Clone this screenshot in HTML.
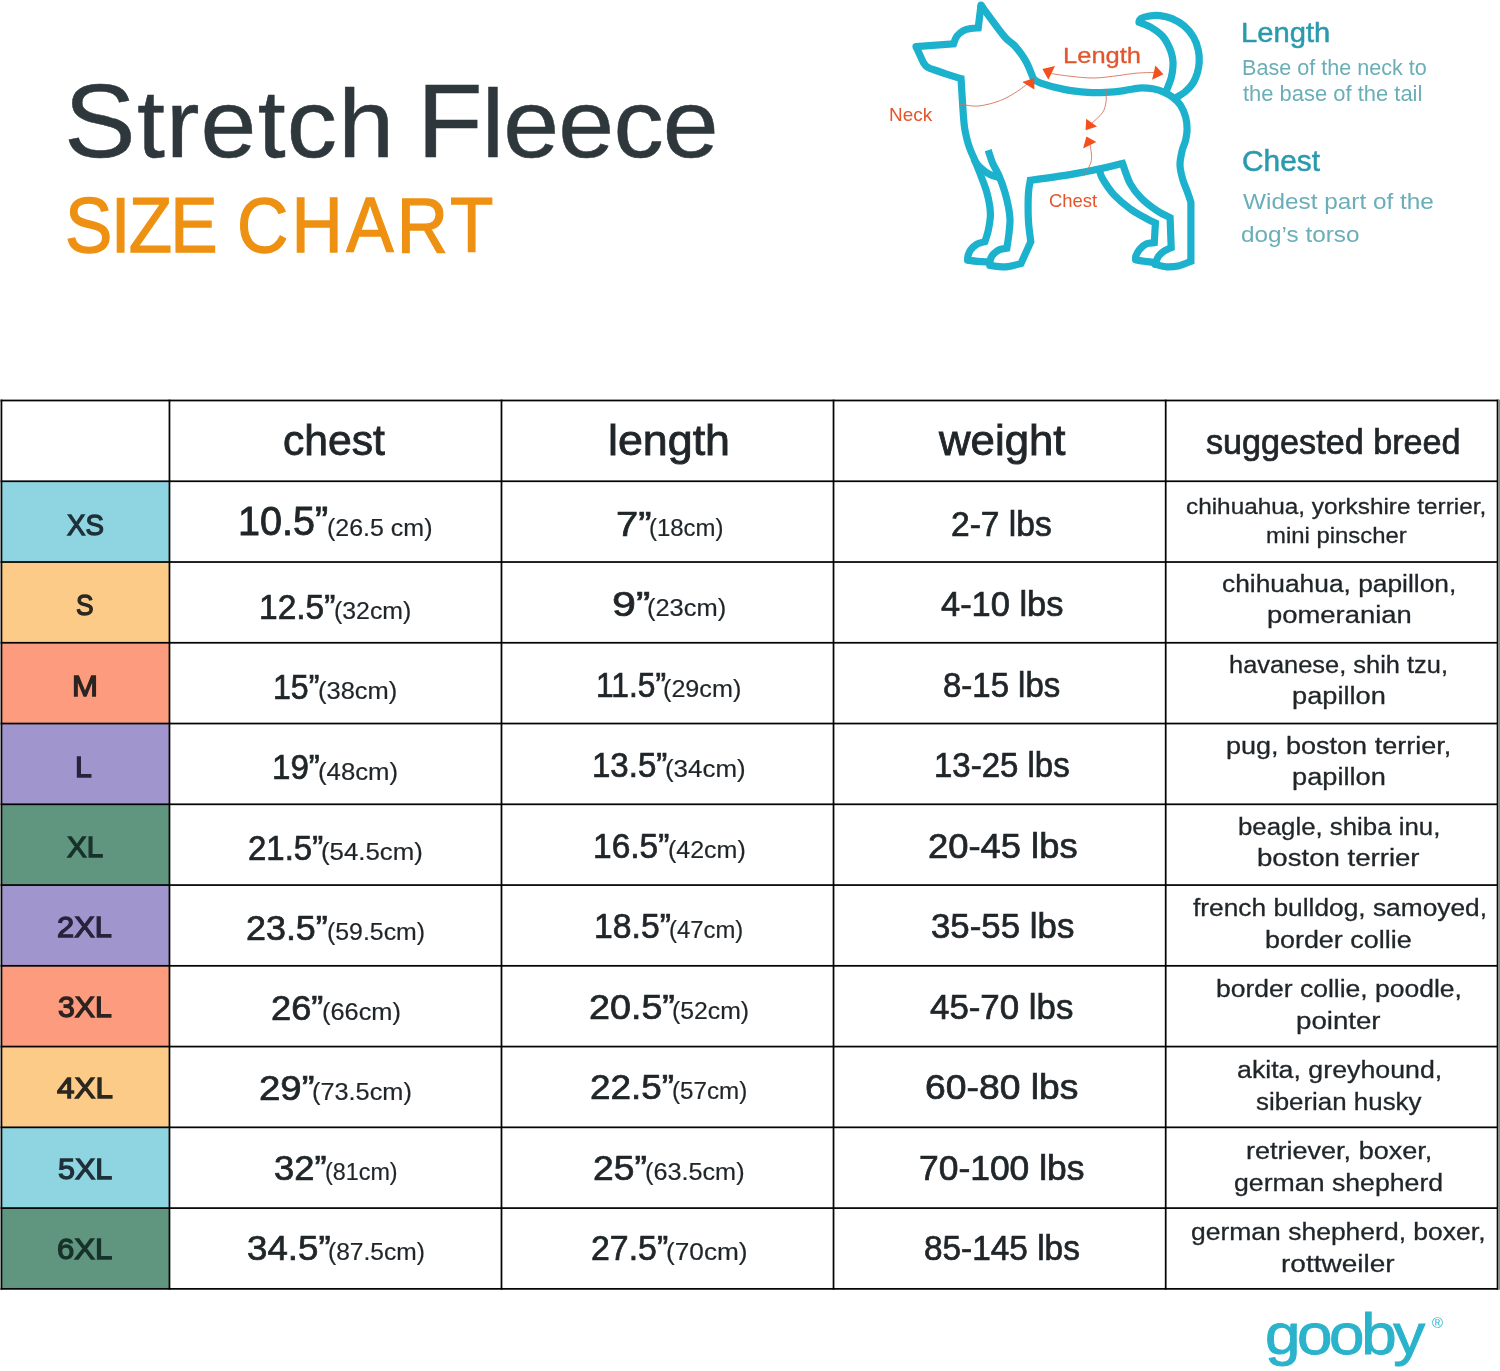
<!DOCTYPE html>
<html lang="en"><head><meta charset="utf-8"><title>Stretch Fleece Size Chart</title>
<style>
html,body{margin:0;padding:0;background:#fff;}
body{width:1500px;height:1371px;position:relative;overflow:hidden;font-family:"Liberation Sans",sans-serif;}
header,section,main,footer,div{margin:0;padding:0;}
.t{position:absolute;white-space:pre;line-height:1;transform-origin:0 0;}
.k::first-letter{font-size:1.07em;}
svg{position:absolute;left:0;top:0;}
</style></head><body>
<header class="title">
<div class="t k" style="left:63.76px;top:69.94px;font-size:96.59px;transform:scaleX(1.0400);color:#2e373c;letter-spacing:1.14px;-webkit-text-stroke:0.50px #2e373c;">Stretch</div>
<div class="t k" style="left:416.69px;top:69.94px;font-size:96.59px;transform:scaleX(1.0400);color:#2e373c;letter-spacing:-0.79px;-webkit-text-stroke:0.50px #2e373c;">Fleece</div>
<div class="t" style="left:64.83px;top:187.14px;font-size:77.21px;transform:scaleX(0.9200);color:#ee9112;letter-spacing:-1.88px;-webkit-text-stroke:1.30px #ee9112;">SIZE</div>
<div class="t" style="left:237.12px;top:187.14px;font-size:77.21px;transform:scaleX(0.9200);color:#ee9112;letter-spacing:3.56px;-webkit-text-stroke:1.30px #ee9112;">CHART</div>
</header>
<section class="guide">
<svg width="1500" height="1371" viewBox="0 0 1500 1371" aria-hidden="true">
<g fill="none" stroke="#1cb1cc" stroke-width="7.2" stroke-linejoin="miter" stroke-miterlimit="3" stroke-linecap="butt">
<path d="M988.0 262.0C986.2 261.9 980.9 261.7 977.5 261.4C974.1 261.1 969.2 260.4 967.6 260.2"/>
<path d="M967.6 260.2C967.7 259.5 967.5 257.6 968.0 255.9C968.5 254.2 969.2 251.8 970.6 249.9C972.0 248.0 974.2 245.8 976.6 244.4C979.0 243.0 983.5 242.1 984.9 241.6C985.5 239.8 987.3 234.7 988.2 230.7C989.1 226.7 990.0 221.6 990.3 217.6C990.6 213.6 990.4 211.0 989.8 206.6C989.2 202.2 988.0 196.4 986.5 191.3C985.0 186.2 982.5 180.1 981.0 176.0C979.5 171.9 978.6 169.9 977.5 167.0C976.4 164.1 975.2 161.2 974.1 158.5C973.0 155.8 971.8 153.6 970.8 151.0C969.8 148.4 968.8 145.7 968.0 143.0C967.2 140.3 966.6 137.9 966.0 135.0C965.4 132.1 964.9 130.9 964.3 125.7C963.7 120.5 963.1 111.7 962.6 103.8C962.1 95.9 961.3 82.8 961.0 78.6C958.3 77.8 950.1 75.3 945.0 73.6C939.9 71.9 932.9 69.4 930.5 68.6C929.8 68.3 927.7 67.6 926.5 66.6C925.3 65.6 923.8 63.2 923.3 62.5L916.0 46.6"/>
<path d="M916.0 46.6L953.6 43.8C954.1 42.5 955.2 38.3 956.9 36.1C958.5 33.9 961.1 31.9 963.5 30.6C965.9 29.3 968.6 28.9 971.1 28.5C973.6 28.1 977.0 28.0 978.2 27.9L981.0 5.2"/>
<path d="M981.0 5.2C984.8 10.4 998.4 29.3 1004.0 36.1C1009.6 42.9 1011.2 41.8 1014.9 46.0C1018.5 50.2 1022.9 55.9 1025.9 61.3C1029.0 66.7 1032.0 75.6 1033.2 78.4C1034.3 79.1 1034.9 81.0 1040.0 82.8C1045.1 84.6 1056.0 87.8 1064.0 89.4C1072.0 91.0 1081.0 91.9 1088.0 92.4C1095.0 92.9 1100.0 92.7 1106.0 92.4C1112.0 92.1 1119.5 91.2 1124.0 90.6C1128.5 90.0 1130.0 89.5 1133.0 89.0C1136.0 88.5 1138.7 87.8 1142.0 87.8C1145.3 87.8 1149.2 88.1 1152.8 88.8C1156.4 89.5 1160.5 90.7 1163.8 92.1C1167.1 93.5 1169.7 95.0 1172.5 97.2C1175.3 99.4 1178.3 101.9 1180.5 105.2C1182.7 108.5 1184.5 112.9 1185.6 116.9C1186.7 120.9 1187.1 125.4 1187.1 129.3C1187.1 133.2 1186.4 136.5 1185.6 140.2C1184.8 143.8 1182.9 147.1 1182.0 151.2C1181.1 155.3 1179.9 160.3 1180.0 165.0C1180.1 169.7 1181.4 174.6 1182.7 179.2C1184.0 183.8 1186.2 188.6 1187.6 192.4C1189.0 196.2 1190.4 200.6 1190.9 202.2L1190.9 261.3C1189.0 262.0 1183.5 264.8 1179.4 265.7C1175.3 266.6 1170.4 267.0 1166.3 266.8C1162.2 266.6 1156.9 264.7 1155.0 264.3"/>
<path d="M1155.0 264.3C1155.6 263.0 1156.9 258.6 1158.5 256.3C1160.1 254.1 1162.5 252.2 1164.6 250.8C1166.7 249.4 1170.1 248.1 1171.2 247.6L1170.1 217.6C1168.0 216.5 1162.3 214.3 1157.5 211.0C1152.7 207.7 1145.6 202.5 1141.1 197.9C1136.5 193.3 1133.3 189.3 1130.2 183.6C1127.1 177.8 1123.8 166.8 1122.5 163.4C1118.8 164.3 1108.8 166.9 1100.0 168.8C1091.2 170.7 1081.6 172.7 1070.0 174.6C1058.4 176.5 1036.9 179.4 1030.3 180.3C1030.0 182.1 1029.0 186.9 1028.6 191.3C1028.2 195.7 1028.1 201.3 1028.1 206.6C1028.1 211.9 1028.1 217.2 1028.6 223.0C1029.0 228.8 1030.4 238.5 1030.8 241.6L1021.0 263.5C1018.5 264.1 1010.9 266.5 1005.7 266.8C1000.5 267.1 992.4 265.7 989.8 265.5"/>
<path d="M989.8 265.5C989.9 264.5 989.8 261.2 990.4 259.3C991.0 257.4 992.0 255.6 993.5 254.0C995.0 252.4 997.4 250.6 999.6 249.6C1001.8 248.6 1005.6 248.4 1006.8 248.2C1007.1 245.8 1008.4 238.8 1008.9 234.0C1009.4 229.2 1010.1 224.3 1010.0 219.7C1009.9 215.1 1009.3 211.3 1008.4 206.6C1007.5 201.9 1006.1 196.4 1004.6 191.3C1003.1 186.2 1001.1 180.8 999.1 176.0C997.1 171.2 994.3 167.1 992.5 162.8C990.7 158.5 988.9 152.3 988.2 150.2"/>
<path d="M1165.5 93.0C1166.4 90.5 1169.9 82.5 1171.1 78.2C1172.3 73.9 1172.7 70.7 1172.9 67.3C1173.2 63.9 1173.1 61.2 1172.6 58.0C1172.0 54.8 1171.3 51.7 1169.6 48.0C1167.9 44.3 1165.6 39.5 1162.4 36.0C1159.2 32.5 1154.3 29.3 1150.4 27.0C1146.5 24.7 1140.9 23.0 1139.0 22.2"/>
<path d="M1139.0 22.2C1139.3 21.6 1139.5 19.5 1141.0 18.5C1142.5 17.5 1144.8 16.7 1148.0 16.2C1151.2 15.7 1156.0 15.2 1160.0 15.6C1164.0 16.0 1168.0 16.9 1172.0 18.6C1176.0 20.3 1180.4 22.7 1184.0 25.8C1187.6 28.9 1191.2 33.1 1193.6 37.2C1196.0 41.3 1197.5 46.2 1198.4 50.4C1199.3 54.6 1199.4 58.6 1199.2 62.4C1199.0 66.2 1198.3 69.6 1197.3 73.1C1196.2 76.6 1194.9 80.2 1192.9 83.3C1191.0 86.3 1188.3 89.0 1185.6 91.4C1182.9 93.8 1178.0 96.5 1176.5 97.5"/>
<path d="M1099.5 170.5C1100.0 171.9 1100.4 175.2 1102.8 179.2C1105.2 183.2 1109.2 189.7 1113.8 194.6C1118.4 199.5 1124.7 204.8 1130.2 208.8C1135.7 212.8 1142.4 216.2 1146.6 218.6C1150.8 221.0 1153.9 222.3 1155.4 223.0L1154.3 242.7C1153.0 242.9 1149.0 242.7 1146.6 243.8C1144.1 244.9 1141.4 247.3 1139.6 249.3C1137.8 251.3 1136.7 253.9 1136.0 255.6C1135.3 257.3 1135.7 259.0 1135.6 259.7"/>
<path d="M1135.6 259.7C1137.1 260.0 1141.3 260.9 1144.4 261.3C1147.5 261.8 1152.7 262.2 1154.3 262.4"/>
<path d="M973.5 158.5C974.2 159.5 975.8 162.5 977.5 164.5C979.2 166.5 981.7 168.8 983.8 170.5C985.9 172.2 987.5 173.3 990.0 174.5C992.5 175.7 997.1 177.0 998.5 177.5"/>
</g>
<g fill="#1cb1cc">
<circle cx="967.6" cy="260.2" r="3.60"/>
<circle cx="916.0" cy="46.6" r="3.60"/>
<circle cx="981.0" cy="5.2" r="3.60"/>
<circle cx="1155.0" cy="264.3" r="3.60"/>
<circle cx="989.8" cy="265.5" r="3.60"/>
<circle cx="1139.0" cy="22.2" r="3.60"/>
<circle cx="1135.6" cy="259.7" r="3.60"/>
</g>
<g fill="none" stroke="#d9705c" stroke-width="0.9">
<path d="M960.4 104.3C963.4 104.6 971.8 106.6 978.5 106.0C985.2 105.4 994.0 102.9 1000.4 100.5C1006.8 98.1 1012.3 94.5 1016.8 91.7C1021.3 88.9 1025.8 84.9 1027.6 83.6"/>
<path d="M1050.0 73.4C1053.3 73.9 1062.7 75.4 1070.0 76.2C1077.3 77.0 1086.0 78.1 1094.0 78.0C1102.0 77.9 1111.0 76.4 1118.0 75.6C1125.0 74.8 1129.8 73.7 1136.0 73.2C1142.2 72.7 1151.8 72.5 1155.0 72.4"/>
<path d="M1106.0 88.8C1106.0 91.0 1106.6 98.0 1106.0 102.0C1105.4 106.0 1104.8 109.3 1102.4 112.8C1100.0 116.3 1093.6 121.5 1091.8 123.2"/>
<path d="M1084.2 176.0C1085.4 173.4 1090.3 165.8 1091.3 160.6C1092.3 155.4 1090.4 147.6 1090.2 145.0"/>
</g>
<g fill="#f3501e">
<polygon points="1022.3,81.9 1034.3,78.1 1034.3,89.5"/>
<polygon points="1042.4,69.0 1055.0,66.0 1048.4,79.8"/>
<polygon points="1155.4,65.5 1163.4,74.2 1152.1,79.7"/>
<polygon points="1086.2,118.8 1097.0,126.6 1085.6,130.2"/>
<polygon points="1086.4,136.6 1096.3,142.0 1083.1,148.6"/>
</g>
</svg>
<div class="labels">
<div class="t" style="left:1062.61px;top:44.77px;font-size:22.25px;transform:scaleX(1.1468);color:#e3552c;-webkit-text-stroke:0.30px #e3552c;">Length</div>
<div class="t" style="left:889.36px;top:105.80px;font-size:18.31px;transform:scaleX(1.0344);color:#e3552c;">Neck</div>
<div class="t" style="left:1049.22px;top:191.70px;font-size:18.31px;transform:scaleX(1.0087);color:#e3552c;">Chest</div>
</div>
<div class="legend">
<div class="t" style="left:1241.09px;top:19.80px;font-size:27.05px;transform:scaleX(1.0784);color:#2a9aae;-webkit-text-stroke:0.50px #2a9aae;">Length</div>
<div class="t" style="left:1242.16px;top:57.59px;font-size:21.51px;transform:scaleX(1.0035);color:#6aaeb8;">Base of the neck to</div>
<div class="t" style="left:1243.00px;top:83.59px;font-size:21.51px;transform:scaleX(1.0207);color:#6aaeb8;">the base of the tail</div>
<div class="t" style="left:1241.67px;top:146.53px;font-size:28.79px;transform:scaleX(1.0369);color:#2a9aae;-webkit-text-stroke:0.50px #2a9aae;">Chest</div>
<div class="t" style="left:1242.81px;top:191.35px;font-size:22.38px;transform:scaleX(1.0883);color:#6aaeb8;">Widest part of the</div>
<div class="t" style="left:1240.90px;top:223.85px;font-size:22.38px;transform:scaleX(1.0859);color:#6aaeb8;">dog’s torso</div>
</div>
</section>
<main class="chart">
<svg width="1500" height="1371" viewBox="0 0 1500 1371" aria-hidden="true">
<rect x="1.45" y="481.26" width="168.02" height="80.76" fill="#8fd4e1"/>
<rect x="1.45" y="562.02" width="168.02" height="80.76" fill="#fccb87"/>
<rect x="1.45" y="642.78" width="168.02" height="80.76" fill="#fc9b7d"/>
<rect x="1.45" y="723.54" width="168.02" height="80.76" fill="#a095cc"/>
<rect x="1.45" y="804.30" width="168.02" height="80.76" fill="#60967f"/>
<rect x="1.45" y="885.06" width="168.02" height="80.76" fill="#a095cc"/>
<rect x="1.45" y="965.82" width="168.02" height="80.76" fill="#fc9b7d"/>
<rect x="1.45" y="1046.58" width="168.02" height="80.76" fill="#fccb87"/>
<rect x="1.45" y="1127.34" width="168.02" height="80.76" fill="#8fd4e1"/>
<rect x="1.45" y="1208.10" width="168.02" height="80.76" fill="#60967f"/>
<g fill="#050505">
<rect x="0.57" y="399.62" width="1497.85" height="1.75"/>
<rect x="0.57" y="480.38" width="1497.85" height="1.75"/>
<rect x="0.57" y="561.14" width="1497.85" height="1.75"/>
<rect x="0.57" y="641.90" width="1497.85" height="1.75"/>
<rect x="0.57" y="722.66" width="1497.85" height="1.75"/>
<rect x="0.57" y="803.42" width="1497.85" height="1.75"/>
<rect x="0.57" y="884.19" width="1497.85" height="1.75"/>
<rect x="0.57" y="964.95" width="1497.85" height="1.75"/>
<rect x="0.57" y="1045.70" width="1497.85" height="1.75"/>
<rect x="0.57" y="1126.47" width="1497.85" height="1.75"/>
<rect x="0.57" y="1207.22" width="1497.85" height="1.75"/>
<rect x="0.57" y="1287.99" width="1497.85" height="1.75"/>
<rect x="0.57" y="399.62" width="1.75" height="890.11"/>
<rect x="168.59" y="399.62" width="1.75" height="890.11"/>
<rect x="500.61" y="399.62" width="1.75" height="890.11"/>
<rect x="832.65" y="399.62" width="1.75" height="890.11"/>
<rect x="1164.83" y="399.62" width="1.75" height="890.11"/>
<rect x="1496.67" y="399.62" width="1.75" height="890.11"/>
</g>
<rect x="1498" y="399.6" width="2" height="890.1" fill="#8c8c8c"/>
</svg>
<div class="thead">
<div class="t" style="left:283.35px;top:419.48px;font-size:42.91px;transform:scaleX(0.9940);color:#1f2528;-webkit-text-stroke:0.88px #1f2528;">chest</div>
<div class="t" style="left:608.04px;top:419.48px;font-size:42.91px;transform:scaleX(1.0437);color:#1f2528;-webkit-text-stroke:0.88px #1f2528;">length</div>
<div class="t" style="left:939.18px;top:418.58px;font-size:42.91px;transform:scaleX(1.0196);color:#1f2528;-webkit-text-stroke:0.88px #1f2528;">weight</div>
<div class="t" style="left:1206.18px;top:425.40px;font-size:35.79px;transform:scaleX(0.9547);color:#1f2528;-webkit-text-stroke:0.74px #1f2528;">suggested breed</div>
</div>
<div class="row">
<div class="t" style="left:66.63px;top:509.80px;font-size:29.54px;transform:scaleX(0.9369);color:#1f3038;-webkit-text-stroke:1.30px #1f3038;">XS</div>
<div class="t" style="left:237.50px;top:501.78px;font-size:39.95px;transform:scaleX(0.9900);color:#1f2528;-webkit-text-stroke:0.82px #1f2528;">10.5”</div>
<div class="t" style="left:327.08px;top:515.83px;font-size:24.53px;transform:scaleX(1.0186);color:#1f2528;-webkit-text-stroke:0.20px #1f2528;">(26.5 cm)</div>
<div class="t" style="left:615.55px;top:506.71px;font-size:35.47px;transform:scaleX(1.1278);color:#1f2528;-webkit-text-stroke:0.73px #1f2528;">7”</div>
<div class="t" style="left:648.94px;top:515.96px;font-size:24.53px;transform:scaleX(0.9770);color:#1f2528;-webkit-text-stroke:0.20px #1f2528;">(18cm)</div>
<div class="t" style="left:951.10px;top:506.58px;font-size:34.76px;transform:scaleX(0.9657);color:#1f2528;-webkit-text-stroke:0.72px #1f2528;">2-7 lbs</div>
<div class="t" style="left:1185.95px;top:495.89px;font-size:22.34px;transform:scaleX(1.0896);color:#1f2528;-webkit-text-stroke:0.30px #1f2528;">chihuahua, yorkshire terrier,</div>
<div class="t" style="left:1265.51px;top:524.89px;font-size:22.34px;transform:scaleX(1.0699);color:#1f2528;-webkit-text-stroke:0.30px #1f2528;">mini pinscher</div>
</div>
<div class="row">
<div class="t" style="left:75.56px;top:590.20px;font-size:29.54px;transform:scaleX(0.8910);color:#2b2722;-webkit-text-stroke:1.30px #2b2722;">S</div>
<div class="t" style="left:259.18px;top:590.24px;font-size:35.47px;transform:scaleX(0.9444);color:#1f2528;-webkit-text-stroke:0.73px #1f2528;">12.5”</div>
<div class="t" style="left:333.92px;top:599.49px;font-size:24.53px;transform:scaleX(1.0139);color:#1f2528;-webkit-text-stroke:0.20px #1f2528;">(32cm)</div>
<div class="t" style="left:612.34px;top:587.22px;font-size:35.47px;transform:scaleX(1.2128);color:#1f2528;-webkit-text-stroke:0.73px #1f2528;">9”</div>
<div class="t" style="left:646.56px;top:596.47px;font-size:24.53px;transform:scaleX(1.0377);color:#1f2528;-webkit-text-stroke:0.20px #1f2528;">(23cm)</div>
<div class="t" style="left:941.42px;top:587.09px;font-size:34.76px;transform:scaleX(0.9898);color:#1f2528;-webkit-text-stroke:0.72px #1f2528;">4-10 lbs</div>
<div class="t" style="left:1221.99px;top:572.18px;font-size:24.41px;transform:scaleX(1.0789);color:#1f2528;-webkit-text-stroke:0.30px #1f2528;">chihuahua, papillon,</div>
<div class="t" style="left:1266.60px;top:602.81px;font-size:24.41px;transform:scaleX(1.1228);color:#1f2528;-webkit-text-stroke:0.30px #1f2528;">pomeranian</div>
</div>
<div class="row">
<div class="t" style="left:71.51px;top:671.00px;font-size:29.54px;transform:scaleX(1.0545);color:#2c2421;-webkit-text-stroke:1.30px #2c2421;">M</div>
<div class="t" style="left:272.99px;top:670.39px;font-size:35.47px;transform:scaleX(0.9039);color:#1f2528;-webkit-text-stroke:0.73px #1f2528;">15”</div>
<div class="t" style="left:317.55px;top:678.64px;font-size:24.53px;transform:scaleX(1.0395);color:#1f2528;-webkit-text-stroke:0.20px #1f2528;">(38cm)</div>
<div class="t" style="left:596.02px;top:667.73px;font-size:35.47px;transform:scaleX(0.8949);color:#1f2528;-webkit-text-stroke:0.73px #1f2528;">11.5”</div>
<div class="t" style="left:663.25px;top:676.98px;font-size:24.53px;transform:scaleX(1.0263);color:#1f2528;-webkit-text-stroke:0.20px #1f2528;">(29cm)</div>
<div class="t" style="left:943.42px;top:667.61px;font-size:34.76px;transform:scaleX(0.9484);color:#1f2528;-webkit-text-stroke:0.72px #1f2528;">8-15 lbs</div>
<div class="t" style="left:1229.23px;top:653.16px;font-size:24.41px;transform:scaleX(1.0412);color:#1f2528;-webkit-text-stroke:0.30px #1f2528;">havanese, shih tzu,</div>
<div class="t" style="left:1292.25px;top:683.87px;font-size:24.41px;transform:scaleX(1.1144);color:#1f2528;-webkit-text-stroke:0.30px #1f2528;">papillon</div>
</div>
<div class="row">
<div class="t" style="left:75.10px;top:751.80px;font-size:29.54px;transform:scaleX(1.0249);color:#26243c;-webkit-text-stroke:1.30px #26243c;">L</div>
<div class="t" style="left:271.85px;top:749.54px;font-size:35.47px;transform:scaleX(0.9329);color:#1f2528;-webkit-text-stroke:0.73px #1f2528;">19”</div>
<div class="t" style="left:318.47px;top:759.79px;font-size:24.53px;transform:scaleX(1.0500);color:#1f2528;-webkit-text-stroke:0.20px #1f2528;">(48cm)</div>
<div class="t" style="left:592.26px;top:748.24px;font-size:35.47px;transform:scaleX(0.9312);color:#1f2528;-webkit-text-stroke:0.73px #1f2528;">13.5”</div>
<div class="t" style="left:665.46px;top:757.49px;font-size:24.53px;transform:scaleX(1.0564);color:#1f2528;-webkit-text-stroke:0.20px #1f2528;">(34cm)</div>
<div class="t" style="left:933.86px;top:748.12px;font-size:34.76px;transform:scaleX(0.9493);color:#1f2528;-webkit-text-stroke:0.72px #1f2528;">13-25 lbs</div>
<div class="t" style="left:1226.14px;top:734.14px;font-size:24.41px;transform:scaleX(1.1064);color:#1f2528;-webkit-text-stroke:0.30px #1f2528;">pug, boston terrier,</div>
<div class="t" style="left:1292.25px;top:764.92px;font-size:24.41px;transform:scaleX(1.1144);color:#1f2528;-webkit-text-stroke:0.30px #1f2528;">papillon</div>
</div>
<div class="row">
<div class="t" style="left:66.59px;top:832.00px;font-size:29.54px;transform:scaleX(1.0024);color:#17322b;-webkit-text-stroke:1.30px #17322b;">XL</div>
<div class="t" style="left:248.19px;top:830.69px;font-size:35.47px;transform:scaleX(0.9294);color:#1f2528;-webkit-text-stroke:0.73px #1f2528;">21.5”</div>
<div class="t" style="left:321.47px;top:839.94px;font-size:24.53px;transform:scaleX(1.0523);color:#1f2528;-webkit-text-stroke:0.20px #1f2528;">(54.5cm)</div>
<div class="t" style="left:592.78px;top:828.75px;font-size:35.47px;transform:scaleX(0.9444);color:#1f2528;-webkit-text-stroke:0.73px #1f2528;">16.5”</div>
<div class="t" style="left:668.09px;top:838.00px;font-size:24.53px;transform:scaleX(1.0191);color:#1f2528;-webkit-text-stroke:0.20px #1f2528;">(42cm)</div>
<div class="t" style="left:927.53px;top:828.64px;font-size:34.76px;transform:scaleX(1.0464);color:#1f2528;-webkit-text-stroke:0.72px #1f2528;">20-45 lbs</div>
<div class="t" style="left:1238.14px;top:815.12px;font-size:24.41px;transform:scaleX(1.0574);color:#1f2528;-webkit-text-stroke:0.30px #1f2528;">beagle, shiba inu,</div>
<div class="t" style="left:1257.15px;top:845.98px;font-size:24.41px;transform:scaleX(1.1304);color:#1f2528;-webkit-text-stroke:0.30px #1f2528;">boston terrier</div>
</div>
<div class="row">
<div class="t" style="left:57.23px;top:911.60px;font-size:29.54px;transform:scaleX(1.0434);color:#26243c;-webkit-text-stroke:1.30px #26243c;">2XL</div>
<div class="t" style="left:246.47px;top:910.84px;font-size:35.47px;transform:scaleX(1.0113);color:#1f2528;-webkit-text-stroke:0.73px #1f2528;">23.5”</div>
<div class="t" style="left:327.11px;top:920.09px;font-size:24.53px;transform:scaleX(1.0137);color:#1f2528;-webkit-text-stroke:0.20px #1f2528;">(59.5cm)</div>
<div class="t" style="left:594.35px;top:909.25px;font-size:35.47px;transform:scaleX(0.9512);color:#1f2528;-webkit-text-stroke:0.73px #1f2528;">18.5”</div>
<div class="t" style="left:669.37px;top:917.50px;font-size:24.53px;transform:scaleX(0.9737);color:#1f2528;-webkit-text-stroke:0.20px #1f2528;">(47cm)</div>
<div class="t" style="left:931.01px;top:909.15px;font-size:34.76px;transform:scaleX(1.0024);color:#1f2528;-webkit-text-stroke:0.72px #1f2528;">35-55 lbs</div>
<div class="t" style="left:1192.74px;top:896.10px;font-size:24.41px;transform:scaleX(1.0783);color:#1f2528;-webkit-text-stroke:0.30px #1f2528;">french bulldog, samoyed,</div>
<div class="t" style="left:1264.80px;top:928.03px;font-size:24.41px;transform:scaleX(1.1027);color:#1f2528;-webkit-text-stroke:0.30px #1f2528;">border collie</div>
</div>
<div class="row">
<div class="t" style="left:57.66px;top:992.10px;font-size:29.54px;transform:scaleX(1.0266);color:#2c2421;-webkit-text-stroke:1.30px #2c2421;">3XL</div>
<div class="t" style="left:270.58px;top:990.98px;font-size:35.47px;transform:scaleX(1.0214);color:#1f2528;-webkit-text-stroke:0.73px #1f2528;">26”</div>
<div class="t" style="left:321.77px;top:1000.23px;font-size:24.53px;transform:scaleX(1.0340);color:#1f2528;-webkit-text-stroke:0.20px #1f2528;">(66cm)</div>
<div class="t" style="left:588.73px;top:989.76px;font-size:35.47px;transform:scaleX(1.0629);color:#1f2528;-webkit-text-stroke:0.73px #1f2528;">20.5”</div>
<div class="t" style="left:672.34px;top:999.01px;font-size:24.53px;transform:scaleX(1.0107);color:#1f2528;-webkit-text-stroke:0.20px #1f2528;">(52cm)</div>
<div class="t" style="left:930.18px;top:989.67px;font-size:34.76px;transform:scaleX(1.0029);color:#1f2528;-webkit-text-stroke:0.72px #1f2528;">45-70 lbs</div>
<div class="t" style="left:1216.31px;top:977.08px;font-size:24.41px;transform:scaleX(1.0855);color:#1f2528;-webkit-text-stroke:0.30px #1f2528;">border collie, poodle,</div>
<div class="t" style="left:1295.52px;top:1009.09px;font-size:24.41px;transform:scaleX(1.1335);color:#1f2528;-webkit-text-stroke:0.30px #1f2528;">pointer</div>
</div>
<div class="row">
<div class="t" style="left:56.73px;top:1072.90px;font-size:29.54px;transform:scaleX(1.0625);color:#2b2722;-webkit-text-stroke:1.30px #2b2722;">4XL</div>
<div class="t" style="left:258.87px;top:1071.13px;font-size:35.47px;transform:scaleX(1.0824);color:#1f2528;-webkit-text-stroke:0.73px #1f2528;">29”</div>
<div class="t" style="left:311.61px;top:1080.38px;font-size:24.53px;transform:scaleX(1.0325);color:#1f2528;-webkit-text-stroke:0.20px #1f2528;">(73.5cm)</div>
<div class="t" style="left:589.96px;top:1070.27px;font-size:35.47px;transform:scaleX(1.0400);color:#1f2528;-webkit-text-stroke:0.73px #1f2528;">22.5”</div>
<div class="t" style="left:672.49px;top:1078.52px;font-size:24.53px;transform:scaleX(0.9867);color:#1f2528;-webkit-text-stroke:0.20px #1f2528;">(57cm)</div>
<div class="t" style="left:924.66px;top:1070.18px;font-size:34.76px;transform:scaleX(1.0732);color:#1f2528;-webkit-text-stroke:0.72px #1f2528;">60-80 lbs</div>
<div class="t" style="left:1236.63px;top:1058.06px;font-size:24.41px;transform:scaleX(1.0959);color:#1f2528;-webkit-text-stroke:0.30px #1f2528;">akita, greyhound,</div>
<div class="t" style="left:1255.75px;top:1090.14px;font-size:24.41px;transform:scaleX(1.0606);color:#1f2528;-webkit-text-stroke:0.30px #1f2528;">siberian husky</div>
</div>
<div class="row">
<div class="t" style="left:58.03px;top:1153.70px;font-size:29.54px;transform:scaleX(1.0341);color:#1f3038;-webkit-text-stroke:1.30px #1f3038;">5XL</div>
<div class="t" style="left:273.53px;top:1151.28px;font-size:35.47px;transform:scaleX(1.0254);color:#1f2528;-webkit-text-stroke:0.73px #1f2528;">32”</div>
<div class="t" style="left:325.28px;top:1159.53px;font-size:24.53px;transform:scaleX(0.9519);color:#1f2528;-webkit-text-stroke:0.20px #1f2528;">(81cm)</div>
<div class="t" style="left:592.90px;top:1150.78px;font-size:35.47px;transform:scaleX(1.0491);color:#1f2528;-webkit-text-stroke:0.73px #1f2528;">25”</div>
<div class="t" style="left:645.43px;top:1160.03px;font-size:24.53px;transform:scaleX(1.0291);color:#1f2528;-webkit-text-stroke:0.20px #1f2528;">(63.5cm)</div>
<div class="t" style="left:919.03px;top:1150.69px;font-size:34.76px;transform:scaleX(1.0196);color:#1f2528;-webkit-text-stroke:0.72px #1f2528;">70-100 lbs</div>
<div class="t" style="left:1245.94px;top:1139.04px;font-size:24.41px;transform:scaleX(1.1072);color:#1f2528;-webkit-text-stroke:0.30px #1f2528;">retriever, boxer,</div>
<div class="t" style="left:1234.37px;top:1171.20px;font-size:24.41px;transform:scaleX(1.0932);color:#1f2528;-webkit-text-stroke:0.30px #1f2528;">german shepherd</div>
</div>
<div class="row">
<div class="t" style="left:57.12px;top:1234.20px;font-size:29.54px;transform:scaleX(1.0547);color:#17322b;-webkit-text-stroke:1.30px #17322b;">6XL</div>
<div class="t" style="left:246.71px;top:1231.43px;font-size:35.47px;transform:scaleX(1.0342);color:#1f2528;-webkit-text-stroke:0.73px #1f2528;">34.5”</div>
<div class="t" style="left:328.42px;top:1239.68px;font-size:24.53px;transform:scaleX(1.0013);color:#1f2528;-webkit-text-stroke:0.20px #1f2528;">(87.5cm)</div>
<div class="t" style="left:590.65px;top:1231.29px;font-size:35.47px;transform:scaleX(0.9545);color:#1f2528;-webkit-text-stroke:0.73px #1f2528;">27.5”</div>
<div class="t" style="left:665.97px;top:1239.54px;font-size:24.53px;transform:scaleX(1.0694);color:#1f2528;-webkit-text-stroke:0.20px #1f2528;">(70cm)</div>
<div class="t" style="left:924.39px;top:1231.21px;font-size:34.76px;transform:scaleX(0.9604);color:#1f2528;-webkit-text-stroke:0.72px #1f2528;">85-145 lbs</div>
<div class="t" style="left:1191.38px;top:1220.02px;font-size:24.41px;transform:scaleX(1.0854);color:#1f2528;-webkit-text-stroke:0.30px #1f2528;">german shepherd, boxer,</div>
<div class="t" style="left:1280.68px;top:1252.25px;font-size:24.41px;transform:scaleX(1.1472);color:#1f2528;-webkit-text-stroke:0.30px #1f2528;">rottweiler</div>
</div>
</main>
<footer class="brand">
<div class="t" style="left:1265.16px;top:1305.46px;font-size:58.05px;transform:scaleX(1.1000);color:#2ab3cb;letter-spacing:-3.14px;-webkit-text-stroke:0.90px #2ab3cb;">gooby</div>
<div class="t" style="left:1431.78px;top:1316.15px;font-size:14.00px;transform:scaleX(1.0586);color:#2ab3cb;">®</div>
</footer>
</body></html>
